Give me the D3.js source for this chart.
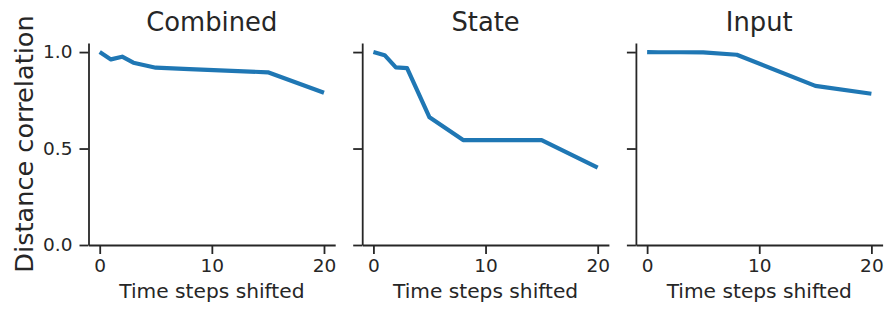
<!DOCTYPE html>
<html>
<head>
<meta charset="utf-8">
<script src="https://cdn.jsdelivr.net/npm/d3@7"></script>
<style>
  body { margin: 0; background: #fff; }
  svg text { font-family: "DejaVu Sans", sans-serif; fill: #262626; }
</style>
</head>
<body>
<div id="chart"></div>
<script>
// data
var shifts = [0, 1, 2, 3, 5, 8, 15, 20];
var panelTitles = ["Combined", "State", "Input"];
var combinedValues = [1.0, 0.962, 0.976, 0.945, 0.919, 0.912, 0.895, 0.789];
var stateValues = [1.0, 0.984, 0.921, 0.917, 0.662, 0.544, 0.544, 0.401];
var inputValues = [1.0, 0.999, 0.999, 0.999, 0.998, 0.986, 0.825, 0.784];
var xTicks = [0, 10, 20];
var yTicks = [0.0, 0.5, 1.0];

var allValues = [combinedValues, stateValues, inputValues];

var svgWidth = 889, svgHeight = 309;
var panelLeft = 88.5, panelStep = 273.7, panelWidth = 246.7;
var plotTop = 43, plotBottom = 245;
var ink = "#262626", lineColor = "#1f77b4";

var svg = d3.select("#chart")
    .append("svg")
    .attr("width", svgWidth)
    .attr("height", svgHeight);

var y = d3.scaleLinear().domain([0, 1.047]).range([plotBottom, plotTop]);

panelTitles.forEach(function (title, i) {
    var left = panelLeft + i * panelStep;
    var x = d3.scaleLinear().domain([-1, 21]).range([left, left + panelWidth]);

    var g = svg.append("g").attr("class", "panel");

    // x axis
    var xAxis = d3.axisBottom(x).tickValues(xTicks).tickFormat(d3.format("d"))
        .tickSize(9).tickPadding(5).tickSizeOuter(0);
    var gx = g.append("g")
        .attr("transform", "translate(0," + plotBottom + ")")
        .call(xAxis);
    gx.selectAll("text").style("font-size", "18.5px").attr("dy", "0.71em");

    // y axis
    var yAxis = d3.axisLeft(y).tickValues(yTicks).tickFormat(d3.format(".1f"))
        .tickSize(9).tickPadding(7).tickSizeOuter(0);
    var gy = g.append("g")
        .attr("transform", "translate(" + x(-1) + ",0)")
        .call(yAxis);
    gy.selectAll("text").style("font-size", "18.5px");
    if (i > 0) gy.selectAll("text").remove();

    g.selectAll(".domain, .tick line")
        .attr("stroke", ink)
        .attr("stroke-width", 1.8);

    // line
    var line = d3.line()
        .x(function (d, k) { return x(shifts[k]); })
        .y(function (d) { return y(d); });

    g.append("path")
        .datum(allValues[i])
        .attr("fill", "none")
        .attr("stroke", lineColor)
        .attr("stroke-width", 4.2)
        .attr("stroke-linejoin", "round")
        .attr("stroke-linecap", "butt")
        .attr("d", line);

    // title
    g.append("text")
        .attr("x", (x(-1) + x(21)) / 2)
        .attr("y", 30.5)
        .attr("text-anchor", "middle")
        .style("font-size", "25.8px")
        .text(title);

    // x label
    g.append("text")
        .attr("x", (x(-1) + x(21)) / 2)
        .attr("y", 298)
        .attr("text-anchor", "middle")
        .style("font-size", "20.2px")
        .text("Time steps shifted");
});

// y label
svg.append("text")
    .attr("transform", "translate(33," + (plotTop + plotBottom) / 2 + ") rotate(-90)")
    .attr("text-anchor", "middle")
    .style("font-size", "25.6px")
    .text("Distance correlation");
</script>
</body>
</html>
